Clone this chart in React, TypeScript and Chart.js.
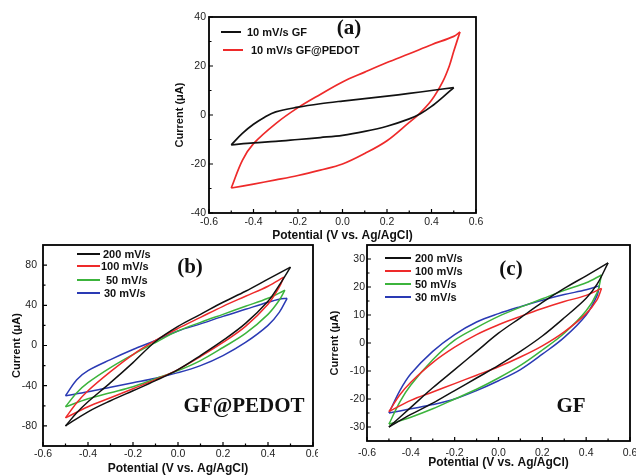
import React, { useEffect, useRef } from "react";
import { Chart, registerables } from "chart.js";

Chart.register(...registerables);

// ---------- axis ticks ----------
const potentialTicks = [-0.6, -0.4, -0.2, 0, 0.2, 0.4, 0.6];
const currentTicksA = [-40, -20, 0, 20, 40];
const currentTicksB = [-80, -40, 0, 40, 80];
const currentTicksC = [-30, -20, -10, 0, 10, 20, 30];

// ---------- legend labels ----------
const seriesLabelsA = ["10 mV/s GF", "10 mV/s GF@PEDOT"];
const scanRateLabels = ["200 mV/s", "100 mV/s", "50 mV/s", "30 mV/s"];

// ---------- (a) 10 mV/s : [potential V, current µA] ----------
const aGFForward = [[-0.5, -12.2], [-0.45, -7.5], [-0.4, -3.8], [-0.35, -0.9], [-0.3, 1.3], [-0.2, 3.2], [-0.1, 4.6], [0, 5.7], [0.1, 6.7], [0.2, 7.7], [0.3, 8.8], [0.4, 10], [0.5, 11.2]];
const aGFReverse = [[0.5, 11.2], [0.45, 7.2], [0.4, 3.5], [0.35, 0.5], [0.3, -1.6], [0.2, -4.6], [0.1, -6.7], [0, -8.3], [-0.1, -9.2], [-0.2, -10], [-0.3, -10.8], [-0.4, -11.4], [-0.5, -12.2]];
const aPedotForward = [[-0.5, -29.8], [-0.45, -18.5], [-0.4, -11.7], [-0.3, -3.5], [-0.2, 3], [-0.1, 8.4], [0, 13.5], [0.1, 17.5], [0.2, 21.4], [0.3, 25], [0.4, 28.7], [0.5, 32.1], [0.528, 33.9]];
const aPedotReverse = [[0.528, 33.9], [0.5, 26], [0.48, 20], [0.45, 13.5], [0.4, 6], [0.34, 0], [0.3, -3], [0.2, -10.5], [0.1, -15.7], [0, -20], [-0.1, -22.5], [-0.2, -24.7], [-0.3, -26.5], [-0.4, -28.2], [-0.5, -29.8]];

// ---------- (b) GF@PEDOT ----------
const b200Forward = [[-0.5, -80], [-0.45, -67], [-0.4, -56], [-0.3, -37], [-0.2, -17], [-0.1, 4], [0, 19], [0.1, 31], [0.2, 43], [0.3, 54], [0.4, 66], [0.5, 78]];
const b200Reverse = [[0.5, 78], [0.45, 60], [0.4, 44], [0.3, 22], [0.2, 5], [0.1, -10], [0, -24], [-0.1, -35], [-0.2, -45], [-0.3, -55], [-0.4, -66], [-0.5, -80]];
const b100Forward = [[-0.5, -72], [-0.45, -57], [-0.4, -45], [-0.3, -26], [-0.2, -9], [-0.1, 5], [0, 17], [0.1, 28], [0.2, 39], [0.3, 49], [0.4, 59], [0.47, 68]];
const b100Reverse = [[0.47, 68], [0.45, 58], [0.4, 41], [0.3, 19], [0.2, 3], [0.1, -11], [0, -24], [-0.1, -34], [-0.2, -43], [-0.3, -52], [-0.4, -61], [-0.5, -72]];
const b50Forward = [[-0.5, -61], [-0.45, -47], [-0.4, -37], [-0.3, -22], [-0.2, -9], [-0.1, 3], [0, 14.5], [0.1, 23], [0.2, 31], [0.3, 39], [0.4, 47], [0.475, 55]];
const b50Reverse = [[0.475, 55], [0.45, 45], [0.4, 31], [0.3, 12], [0.2, -2], [0.1, -15], [0, -25], [-0.1, -33], [-0.2, -41], [-0.3, -47], [-0.4, -53], [-0.5, -61]];
const b30Forward = [[-0.5, -50], [-0.45, -34], [-0.4, -25], [-0.3, -14], [-0.2, -4], [-0.1, 5], [0, 14.5], [0.1, 21.5], [0.2, 29], [0.3, 36], [0.4, 43], [0.45, 46], [0.485, 47]];
const b30Reverse = [[0.485, 47], [0.45, 33], [0.4, 20], [0.3, 3], [0.2, -10], [0.1, -20], [0, -27], [-0.1, -32.5], [-0.2, -37], [-0.3, -41.5], [-0.4, -46], [-0.5, -50]];

// ---------- (c) GF ----------
const c200Forward = [[-0.5, -30], [-0.4, -23], [-0.3, -16], [-0.2, -9.5], [-0.1, -3], [0, 3.5], [0.1, 9], [0.2, 14.5], [0.3, 19.5], [0.4, 24], [0.5, 28.6]];
const c200Reverse = [[0.5, 28.6], [0.45, 21], [0.4, 16], [0.3, 9], [0.2, 2.5], [0.1, -3], [0, -8], [-0.1, -12.5], [-0.2, -17], [-0.3, -21.5], [-0.4, -25.5], [-0.5, -30]];
const c100Forward = [[-0.5, -24.5], [-0.45, -18.5], [-0.4, -14], [-0.3, -7], [-0.2, -1.5], [-0.1, 3], [0, 6.5], [0.1, 9.5], [0.2, 12.3], [0.3, 14.8], [0.4, 17], [0.47, 19.5]];
const c100Reverse = [[0.47, 19.5], [0.45, 15.5], [0.4, 10.5], [0.3, 4], [0.2, -1], [0.1, -5], [0, -8.5], [-0.1, -11.5], [-0.2, -14.5], [-0.3, -17.5], [-0.4, -20.5], [-0.5, -24.5]];
const c50Forward = [[-0.5, -29], [-0.45, -21], [-0.4, -15], [-0.3, -6], [-0.2, 1], [-0.1, 5.5], [0, 9.5], [0.1, 12.8], [0.2, 15.8], [0.3, 18.8], [0.4, 21.5], [0.47, 24.3]];
const c50Reverse = [[0.47, 24.3], [0.45, 18], [0.4, 11.5], [0.3, 3.5], [0.2, -2.5], [0.1, -8], [0, -12.5], [-0.1, -16.5], [-0.2, -20], [-0.3, -23.5], [-0.4, -26.5], [-0.5, -29]];
const c30Forward = [[-0.5, -25], [-0.45, -17], [-0.4, -11], [-0.3, -3], [-0.2, 3], [-0.1, 7.5], [0, 10.5], [0.1, 13], [0.2, 15.3], [0.3, 17.3], [0.4, 19], [0.46, 20.4]];
const c30Reverse = [[0.46, 20.4], [0.45, 17], [0.4, 10], [0.3, 2], [0.2, -4], [0.1, -9.5], [0, -13.5], [-0.1, -17], [-0.2, -20], [-0.3, -22], [-0.4, -23.5], [-0.5, -25]];

// ---------- styles ----------
const BLACK = "#111111";
const RED = "#ee2a2a";
const GREEN = "#3cb43c";
const BLUE = "#2a3ab4";
const SANS = "'Liberation Sans', Arial, sans-serif";
const SERIF = "'Liberation Serif', 'Times New Roman', serif";

const panelA = {
  left: 150, top: 0, width: 340, height: 245,
  area: { l: 209, t: 17, r: 476, b: 213 },
  yMin: -40, yMax: 40, yTicks: currentTicksA,
  yTickPad: 3, xTickPad: 3, yTitlePad: 23.4, xTitlePad: 1.8,
  lineWidth: 1.7,
  series: [
    { color: BLACK, fwd: aGFForward, rev: aGFReverse },
    { color: RED, fwd: aPedotForward, rev: aPedotReverse },
  ],
  legend: [
    { label: seriesLabelsA[0], color: BLACK, x1: 221, x2: 241, y: 32, tx: 247 },
    { label: seriesLabelsA[1], color: RED, x1: 223, x2: 243, y: 50, tx: 251 },
  ],
  notes: [{ text: "(a)", x: 349, y: 29 }],
};

const panelB = {
  left: 0, top: 238, width: 318, height: 240,
  area: { l: 43, t: 245, r: 313, b: 446 },
  yMin: -100, yMax: 100, yTicks: currentTicksB,
  yTickPad: 6, xTickPad: 2, yTitlePad: 10.4, xTitlePad: 1.8,
  lineWidth: 1.5,
  series: [
    { color: BLACK, fwd: b200Forward, rev: b200Reverse },
    { color: RED, fwd: b100Forward, rev: b100Reverse },
    { color: GREEN, fwd: b50Forward, rev: b50Reverse },
    { color: BLUE, fwd: b30Forward, rev: b30Reverse },
  ],
  legend: [
    { label: scanRateLabels[0], color: BLACK, x1: 77, x2: 100, y: 254, tx: 103 },
    { label: scanRateLabels[1], color: RED, x1: 77, x2: 100, y: 266, tx: 101 },
    { label: scanRateLabels[2], color: GREEN, x1: 77, x2: 100, y: 280, tx: 106 },
    { label: scanRateLabels[3], color: BLUE, x1: 77, x2: 100, y: 293, tx: 104 },
  ],
  notes: [
    { text: "(b)", x: 190, y: 268 },
    { text: "GF@PEDOT", x: 244, y: 407 },
  ],
};

const panelC = {
  left: 318, top: 238, width: 318, height: 240,
  area: { l: 367, t: 245, r: 630, b: 441 },
  yMin: -35, yMax: 35, yTicks: currentTicksC,
  yTickPad: 2, xTickPad: 6, yTitlePad: 10.4, xTitlePad: 7.8,
  lineWidth: 1.5,
  series: [
    { color: BLACK, fwd: c200Forward, rev: c200Reverse },
    { color: RED, fwd: c100Forward, rev: c100Reverse },
    { color: GREEN, fwd: c50Forward, rev: c50Reverse },
    { color: BLUE, fwd: c30Forward, rev: c30Reverse },
  ],
  legend: [
    { label: scanRateLabels[0], color: BLACK, x1: 385, x2: 411, y: 258, tx: 415 },
    { label: scanRateLabels[1], color: RED, x1: 385, x2: 411, y: 271, tx: 415 },
    { label: scanRateLabels[2], color: GREEN, x1: 385, x2: 411, y: 284, tx: 415 },
    { label: scanRateLabels[3], color: BLUE, x1: 385, x2: 411, y: 297, tx: 415 },
  ],
  notes: [
    { text: "(c)", x: 511, y: 270 },
    { text: "GF", x: 571, y: 407 },
  ],
};

function zeroPadding(s: any) {
  s.paddingLeft = 0;
  s.paddingRight = 0;
  s.paddingTop = 0;
  s.paddingBottom = 0;
}

function Panel({ cfg }: { cfg: any }) {
  const ref = useRef<HTMLCanvasElement>(null);
  useEffect(() => {
    const canvas = ref.current as HTMLCanvasElement;
    const aL = cfg.area.l - cfg.left;
    const aT = cfg.area.t - cfg.top;
    const aR = cfg.area.r - cfg.left;
    const aB = cfg.area.b - cfg.top;

    const datasets: any[] = [];
    cfg.series.forEach((s: any) => {
      [s.fwd, s.rev].forEach((branch: number[][]) => {
        datasets.push({
          data: branch.map(([x, y]) => ({ x, y })),
          borderColor: s.color,
          borderWidth: cfg.lineWidth,
          pointRadius: 0,
          tension: 0.35,
          fill: false,
        });
      });
    });

    const deco = {
      id: "deco",
      afterDraw(chart: any) {
        const { ctx, chartArea: a, scales } = chart;
        const xs = scales.x;
        const ys = scales.y;
        ctx.save();
        ctx.strokeStyle = "#000";
        ctx.lineWidth = 1.2;
        const xt = potentialTicks;
        ctx.beginPath();
        for (let i = 0; i < xt.length; i++) {
          const px = xs.getPixelForValue(xt[i]);
          ctx.moveTo(px, a.bottom);
          ctx.lineTo(px, a.bottom - 4);
          if (i < xt.length - 1) {
            const pm = xs.getPixelForValue((xt[i] + xt[i + 1]) / 2);
            ctx.moveTo(pm, a.bottom);
            ctx.lineTo(pm, a.bottom - 2.5);
          }
        }
        const yt = cfg.yTicks;
        for (let i = 0; i < yt.length; i++) {
          const py = ys.getPixelForValue(yt[i]);
          ctx.moveTo(a.left, py);
          ctx.lineTo(a.left + 4, py);
          if (i < yt.length - 1) {
            const pm = ys.getPixelForValue((yt[i] + yt[i + 1]) / 2);
            ctx.moveTo(a.left, pm);
            ctx.lineTo(a.left + 2.5, pm);
          }
        }
        ctx.stroke();
        ctx.lineWidth = 1.8;
        ctx.strokeRect(a.left, a.top, a.right - a.left, a.bottom - a.top);

        // legend
        ctx.font = `bold 11px ${SANS}`;
        ctx.textBaseline = "middle";
        ctx.textAlign = "left";
        cfg.legend.forEach((it: any) => {
          ctx.strokeStyle = it.color;
          ctx.lineWidth = 2;
          ctx.beginPath();
          ctx.moveTo(it.x1 - cfg.left, it.y - cfg.top);
          ctx.lineTo(it.x2 - cfg.left, it.y - cfg.top);
          ctx.stroke();
          ctx.fillStyle = "#111";
          ctx.fillText(it.label, it.tx - cfg.left, it.y - cfg.top + 0.5);
        });

        // panel notes
        ctx.font = `bold 21px ${SERIF}`;
        ctx.textAlign = "center";
        ctx.fillStyle = "#111";
        cfg.notes.forEach((n: any) => {
          ctx.fillText(n.text, n.x - cfg.left, n.y - cfg.top);
        });
        ctx.restore();
      },
    };

    const tickFont = { family: SANS, size: 10.5 };
    const chart = new Chart(canvas, {
      type: "line",
      data: { datasets },
      options: {
        animation: false,
        responsive: false,
        devicePixelRatio: 1,
        layout: { padding: { left: 0, top: aT, right: cfg.width - aR, bottom: 0 } },
        plugins: { legend: { display: false }, tooltip: { enabled: false } },
        scales: {
          x: {
            type: "linear",
            min: -0.6,
            max: 0.6,
            afterBuildTicks: (s: any) => {
              s.ticks = potentialTicks.map((v) => ({ value: v }));
            },
            afterFit: (s: any) => {
              s.height = cfg.height - aB;
              zeroPadding(s);
            },
            grid: { display: false, drawTicks: false },
            border: { display: false },
            ticks: {
              padding: cfg.xTickPad,
              font: tickFont,
              color: "#222",
              maxRotation: 0,
              autoSkip: false,
              callback: (v: any) => Number(v).toFixed(1),
            },
            title: {
              display: true,
              text: "Potential (V vs. Ag/AgCl)",
              color: "#111",
              font: { family: SANS, size: 12, weight: "bold" },
              padding: { top: 0, bottom: cfg.xTitlePad },
            },
          },
          y: {
            type: "linear",
            min: cfg.yMin,
            max: cfg.yMax,
            afterBuildTicks: (s: any) => {
              s.ticks = cfg.yTicks.map((v: number) => ({ value: v }));
            },
            afterFit: (s: any) => {
              s.width = aL;
              zeroPadding(s);
            },
            grid: { display: false, drawTicks: false },
            border: { display: false },
            ticks: {
              padding: cfg.yTickPad,
              font: tickFont,
              color: "#222",
              autoSkip: false,
              callback: (v: any) => String(v),
            },
            title: {
              display: true,
              text: "Current (μA)",
              color: "#111",
              font: { family: SANS, size: 11, weight: "bold" },
              padding: { top: cfg.yTitlePad, bottom: 0 },
            },
          },
        },
      },
      plugins: [deco],
    } as any);
    return () => chart.destroy();
  }, [cfg]);

  return (
    <canvas
      ref={ref}
      width={cfg.width}
      height={cfg.height}
      style={{
        position: "absolute",
        left: cfg.left,
        top: cfg.top,
        width: cfg.width,
        height: cfg.height,
      }}
    />
  );
}

export default function App() {
  return (
    <div
      style={{
        position: "fixed",
        left: 0,
        top: 0,
        width: 636,
        height: 475,
        background: "#ffffff",
        overflow: "hidden",
      }}
    >
      <Panel cfg={panelA} />
      <Panel cfg={panelB} />
      <Panel cfg={panelC} />
    </div>
  );
}
